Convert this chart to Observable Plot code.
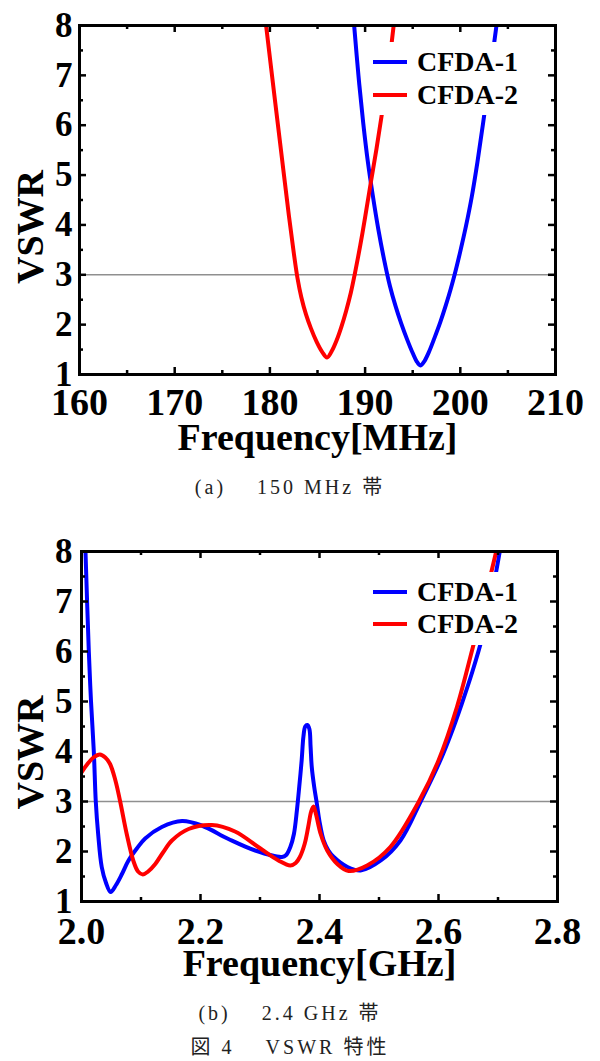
<!DOCTYPE html>
<html>
<head>
<meta charset="utf-8">
<script src="https://cdn.jsdelivr.net/npm/d3@7"></script>
<script src="https://cdn.jsdelivr.net/npm/@observablehq/plot@0.6"></script>
<style>
  html, body { margin: 0; padding: 0; background: #fff; }
  #root { position: relative; width: 600px; height: 1061px; overflow: hidden; background: #fff; }
  .chart { position: absolute; left: 0; }
  .legend { position: absolute; background: #fff; font-family: "Liberation Serif", "Times New Roman", serif; font-weight: bold; font-size: 28px; color: #000; }
  .legend .row { position: absolute; left: 0; height: 30px; width: 100%; }
  .legend .sw { position: absolute; left: 7px; top: 13px; width: 34px; height: 4px; }
  .legend .lb { position: absolute; left: 51px; top: 0; line-height: 30px; white-space: nowrap; }
  .cap { position: absolute; left: 0; width: 580px; text-align: center; font-family: "Liberation Serif", "Noto Sans CJK JP", serif; font-size: 20px; letter-spacing: 3px; color: #222; white-space: pre; line-height: 24px; }
</style>
</head>
<body>
<div id="root"></div>
<script>
// ---------- data ----------
const seriesNames = ["CFDA-1", "CFDA-2"];
const seriesColors = ["#0000ff", "#ff0000"];
const yTitle = "VSWR";
const thresholdVswr = 3;
const vswrTicks = [1, 2, 3, 4, 5, 6, 7, 8];
const vswrMinor = [1.5, 2.5, 3.5, 4.5, 5.5, 6.5, 7.5];

// (a) 150 MHz band
const mhzTitle = "Frequency[MHz]";
const mhzTicks = [160, 170, 180, 190, 200, 210];
const mhzMinor = [165, 175, 185, 195, 205];
const mhzFreq1 = [188.85, 189.3, 189.8, 190.3, 190.8, 191.4, 192.0, 192.6, 193.2, 193.8, 194.4, 195.0, 195.4, 195.8, 196.2, 196.7, 197.3, 197.9, 198.5, 199.0, 199.4, 200.0, 200.6, 201.2, 201.8, 202.4, 203.1, 203.8];
const mhzVswr1 = [8.0, 7.0, 6.05, 5.25, 4.6, 3.9, 3.3, 2.78, 2.37, 2.02, 1.71, 1.43, 1.27, 1.18, 1.26, 1.45, 1.74, 2.05, 2.4, 2.72, 3.0, 3.47, 3.98, 4.56, 5.26, 6.05, 7.0, 8.0];
const mhzFreq2 = [179.6, 180.5, 181.3, 182.0, 182.5, 182.9, 183.3, 183.8, 184.3, 184.9, 185.5, 186.0, 186.5, 187.0, 187.5, 188.0, 188.5, 188.9, 189.5, 190.0, 190.6, 191.2, 191.8, 192.4, 193.0];
const mhzVswr2 = [8.0, 6.55, 5.28, 4.18, 3.45, 2.93, 2.55, 2.2, 1.93, 1.66, 1.45, 1.34, 1.47, 1.68, 1.95, 2.27, 2.64, 3.0, 3.6, 4.15, 4.85, 5.53, 6.27, 7.05, 8.0];
const capA = "(a)\u3000 150 MHz 帯";

// (b) 2.4 GHz band
const ghzTitle = "Frequency[GHz]";
const ghzTicks = [2.0, 2.2, 2.4, 2.6, 2.8];
const ghzMinor = [2.1, 2.3, 2.5, 2.7];
const ghzFreq1 = [2.0067, 2.0123, 2.016, 2.0207, 2.024, 2.028, 2.034, 2.041, 2.049, 2.058, 2.068, 2.079, 2.093, 2.107, 2.135, 2.169, 2.202, 2.247, 2.292, 2.337, 2.344, 2.351, 2.357, 2.362, 2.366, 2.370, 2.373, 2.376, 2.3795, 2.383, 2.385, 2.387, 2.391, 2.395, 2.400, 2.407, 2.415, 2.424, 2.447, 2.469, 2.503, 2.536, 2.570, 2.603, 2.621, 2.639, 2.657, 2.674, 2.689, 2.703];
const ghzVswr1 = [8.0, 6.0, 5.0, 4.0, 3.0, 2.35, 1.69, 1.38, 1.19, 1.33, 1.55, 1.82, 2.06, 2.26, 2.49, 2.61, 2.52, 2.25, 2.02, 1.89, 1.93, 2.09, 2.35, 2.82, 3.3, 3.82, 4.3, 4.5, 4.53, 4.45, 4.1, 3.69, 3.3, 3.0, 2.6, 2.22, 2.02, 1.89, 1.69, 1.62, 1.82, 2.22, 3.0, 3.82, 4.35, 4.95, 5.6, 6.3, 7.1, 8.0];
const ghzFreq2 = [2.0, 2.01, 2.02, 2.031, 2.04, 2.048, 2.057, 2.065, 2.076, 2.087, 2.095, 2.103, 2.112, 2.124, 2.137, 2.152, 2.18, 2.219, 2.258, 2.297, 2.331, 2.351, 2.36, 2.367, 2.375, 2.381, 2.386, 2.39, 2.394, 2.402, 2.413, 2.43, 2.449, 2.48, 2.519, 2.567, 2.6, 2.631, 2.657, 2.672, 2.685, 2.697];
const ghzVswr2 = [3.58, 3.75, 3.88, 3.94, 3.88, 3.75, 3.42, 3.0, 2.35, 1.82, 1.6, 1.54, 1.6, 1.75, 1.98, 2.22, 2.45, 2.53, 2.4, 2.09, 1.82, 1.72, 1.77, 1.89, 2.15, 2.49, 2.8, 2.9, 2.75, 2.35, 2.02, 1.75, 1.61, 1.72, 2.09, 3.0, 3.82, 4.89, 6.05, 6.75, 7.4, 8.0];
const capB = "(b)\u3000 2.4 GHz 帯";
const capFig = "図 4\u3000 VSWR 特性";

// ---------- drawing ----------
const root = document.getElementById("root");
const serif = '"Liberation Serif", "Times New Roman", serif';

function rowsOf(fs, vs, name) { return fs.map((f, i) => ({ f, v: vs[i], s: name })); }

function drawChart(cfg) {
  const W = 600;
  const plotW = W - cfg.marginLeft - cfg.marginRight;
  const plotH = cfg.height - cfg.marginTop - cfg.marginBottom;
  const MAJ = 7, MIN = 4;
  const r1 = rowsOf(cfg.f1, cfg.v1, seriesNames[0]);
  const r2 = rowsOf(cfg.f2, cfg.v2, seriesNames[1]);
  const svg = Plot.plot({
    width: W, height: cfg.height,
    marginLeft: cfg.marginLeft, marginRight: cfg.marginRight,
    marginTop: cfg.marginTop, marginBottom: cfg.marginBottom,
    style: { fontFamily: serif, color: "#000", background: "transparent", overflow: "visible" },
    x: { domain: cfg.xDomain },
    y: { domain: [1, 8] },
    marks: [
      Plot.ruleY([thresholdVswr], { stroke: "#8f8f8f", strokeWidth: 1.6 }),
      Plot.line(r1, { x: "f", y: "v", stroke: seriesColors[0], strokeWidth: 4, curve: "catmull-rom", clip: true }),
      Plot.line(r2, { x: "f", y: "v", stroke: seriesColors[1], strokeWidth: 4, curve: "catmull-rom", clip: true }),
      // inward ticks on all four sides
      Plot.tickX(cfg.xTicks, { x: d => d, insetTop: plotH - MAJ, stroke: "#000", strokeWidth: 2.5 }),
      Plot.tickX(cfg.xTicks, { x: d => d, insetBottom: plotH - MAJ, stroke: "#000", strokeWidth: 2.5 }),
      Plot.tickX(cfg.xMinor, { x: d => d, insetTop: plotH - MIN, stroke: "#000", strokeWidth: 2.5 }),
      Plot.tickX(cfg.xMinor, { x: d => d, insetBottom: plotH - MIN, stroke: "#000", strokeWidth: 2.5 }),
      Plot.tickY(vswrTicks, { y: d => d, insetRight: plotW - MAJ, stroke: "#000", strokeWidth: 2.5 }),
      Plot.tickY(vswrTicks, { y: d => d, insetLeft: plotW - MAJ, stroke: "#000", strokeWidth: 2.5 }),
      Plot.tickY(vswrMinor, { y: d => d, insetRight: plotW - MIN, stroke: "#000", strokeWidth: 2.5 }),
      Plot.tickY(vswrMinor, { y: d => d, insetLeft: plotW - MIN, stroke: "#000", strokeWidth: 2.5 }),
      Plot.frame({ stroke: "#000", strokeWidth: 3 }),
      Plot.axisX(cfg.xTicks, { tickSize: 0, tickPadding: cfg.xPad, tickFormat: cfg.fmt, fontSize: 38, fontWeight: "bold", label: null }),
      Plot.axisY(vswrTicks, { tickSize: 0, tickPadding: cfg.yPad, tickFormat: d3.format("d"), fontSize: 35, fontWeight: "bold", label: null }),
      Plot.text([cfg.xTitle], { text: d => d, frameAnchor: "bottom", textAnchor: "middle", dy: cfg.xTitleDy, fontSize: 38, fontWeight: "bold", lineAnchor: "middle" }),
      Plot.text([yTitle], { text: d => d, frameAnchor: "left", textAnchor: "middle", dx: 30 - cfg.marginLeft, dy: cfg.yTitleDy, rotate: -90, fontSize: 38, fontWeight: "bold", lineAnchor: "middle" })
    ]
  });
  svg.classList.add("chart");
  svg.style.top = cfg.top + "px";
  root.appendChild(svg);

  // legend (white box that hides the curves behind it)
  const lg = document.createElement("div");
  lg.className = "legend";
  lg.style.left = cfg.legend.left + "px";
  lg.style.top = cfg.legend.top + "px";
  lg.style.width = cfg.legend.width + "px";
  lg.style.height = cfg.legend.height + "px";
  seriesNames.forEach((n, i) => {
    const row = document.createElement("div");
    row.className = "row";
    row.style.top = (cfg.legend.rowTops[i] - 15) + "px";
    const sw = document.createElement("div");
    sw.className = "sw";
    sw.style.background = seriesColors[i];
    const lb = document.createElement("div");
    lb.className = "lb";
    lb.textContent = n;
    row.appendChild(sw); row.appendChild(lb);
    lg.appendChild(row);
  });
  root.appendChild(lg);
}

function caption(text, centerY) {
  const d = document.createElement("div");
  d.className = "cap";
  d.style.top = (centerY - 12) + "px";
  d.textContent = text;
  root.appendChild(d);
}

drawChart({
  top: 0, height: 470, marginTop: 25, marginBottom: 96, marginLeft: 79, marginRight: 45,
  xDomain: [160, 210], xTicks: mhzTicks, xMinor: mhzMinor, fmt: d3.format("d"),
  f1: mhzFreq1, v1: mhzVswr1, f2: mhzFreq2, v2: mhzVswr2,
  xTitle: mhzTitle, xTitleDy: 63, yTitleDy: 27, xPad: 14, yPad: 7,
  legend: { left: 366, top: 42, width: 170, height: 73, rowTops: [20, 53] }
});
caption(capA, 487);

drawChart({
  top: 520, height: 470, marginTop: 31, marginBottom: 89, marginLeft: 81, marginRight: 43,
  xDomain: [2.0, 2.8], xTicks: ghzTicks, xMinor: ghzMinor, fmt: d3.format(".1f"),
  f1: ghzFreq1, v1: ghzVswr1, f2: ghzFreq2, v2: ghzVswr2,
  xTitle: ghzTitle, xTitleDy: 62, yTitleDy: 26, xPad: 16, yPad: 9,
  legend: { left: 366, top: 572, width: 170, height: 73, rowTops: [20, 52] }
});
caption(capB, 1013);
caption(capFig, 1047);
</script>
</body>
</html>
